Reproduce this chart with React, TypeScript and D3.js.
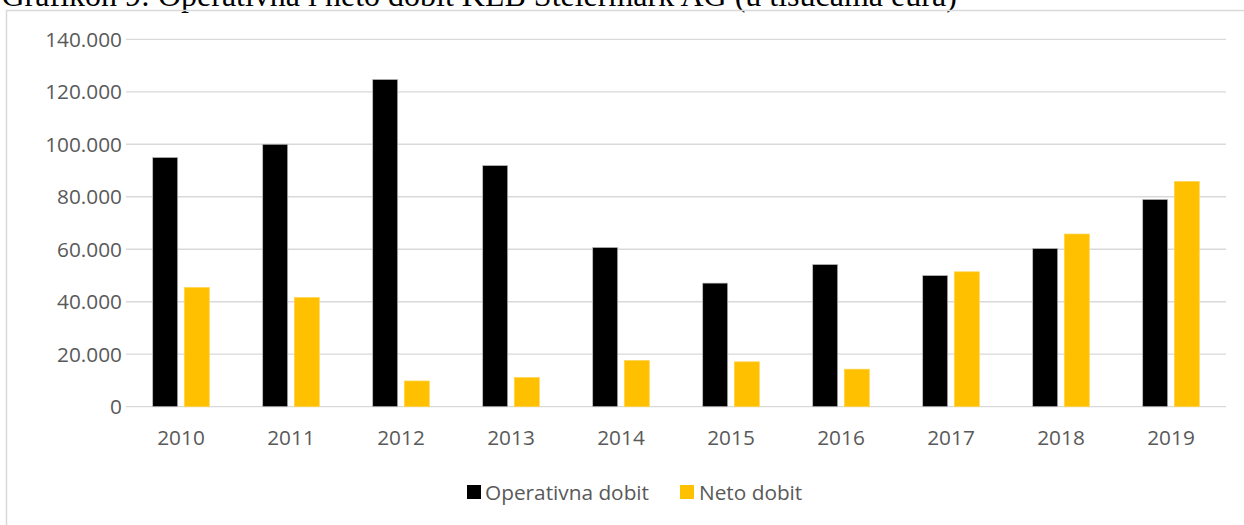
import React from "react";
import * as d3 from "d3";

const years = ["2010", "2011", "2012", "2013", "2014", "2015", "2016", "2017", "2018", "2019"];
const operativnaDobit = [95000, 100000, 124700, 91900, 60700, 47100, 54200, 50000, 60300, 79000];
const netoDobit = [45400, 41600, 9800, 11100, 17600, 17100, 14300, 51400, 65800, 85800];
const yTicks = [0, 20000, 40000, 60000, 80000, 100000, 120000, 140000];
const seriesNames = ["Operativna dobit", "Neto dobit"];
const seriesColors = ["#000000", "#FFC000"];
const title = "Grafikon 9: Operativna i neto dobit KLB Steiermark AG (u tisućama eura)";

const W = 1244;
const H = 525;
const left = 126;
const right = 1226;
const top = 39.3;
const bottom = 406.7;
const font = "'Open Sans', 'Noto Sans', sans-serif";
const fs = 20.8;

export default function App() {
  const x = d3.scaleBand<string>().domain(years).range([left, right]).paddingInner(0).paddingOuter(0);
  const y = d3.scaleLinear().domain([0, 140000]).range([bottom, top]);
  const barW = 25;
  const gap = 6.6;
  const fmt = (v: number) => (v === 0 ? "0" : d3.format(",")(v).replace(/,/g, "."));
  const series = [operativnaDobit, netoDobit];

  return (
    <svg
      width={W}
      height={H}
      style={{ position: "absolute", left: 0, top: 0, background: "#fff" }}
    >
      <rect x={0} y={0} width={W} height={H} fill="#fff" />
      <text x={1.5} y={6} fontFamily="'Liberation Serif', 'Times New Roman', serif" fontSize={32} fill="#000">
        {title}
      </text>
      <rect x={6.5} y={10.5} width={W + 20} height={H + 20} fill="none" stroke="#d9d9d9" strokeWidth={1.5} />
      {yTicks.map((t) => (
        <g key={t}>
          <line x1={left} x2={right} y1={y(t)} y2={y(t)} stroke="#d9d9d9" strokeWidth={1.3} />
          <text
            x={122}
            y={y(t)}
            dy="0.36em"
            textAnchor="end"
            fontFamily={font}
            fontSize={fs}
            fill="#595959"
          >
            {fmt(t)}
          </text>
        </g>
      ))}
      {years.map((yr, i) => {
        const c = (x(yr) as number) + x.bandwidth() / 2;
        return (
          <g key={yr}>
            {series.map((s, k) => {
              const bx = k === 0 ? c - gap / 2 - barW : c + gap / 2;
              return (
                <rect
                  key={k}
                  x={bx}
                  y={y(s[i])}
                  width={barW}
                  height={y(0) - y(s[i])}
                  fill={seriesColors[k]}
                  stroke={k === 0 ? "#bfbfbf" : "#ffd34d"}
                  strokeWidth={0.7}
                />
              );
            })}
            <text
              x={c}
              y={444.5}
              textAnchor="middle"
              fontFamily={font}
              fontSize={fs}
              fill="#595959"
            >
              {yr}
            </text>
          </g>
        );
      })}
      <g>
        <rect x={467} y={485} width={14} height={14} fill={seriesColors[0]} />
        <text x={485} y={499.5} fontFamily={font} fontSize={fs} fill="#595959">
          {seriesNames[0]}
        </text>
        <rect x={680} y={485} width={14} height={14} fill={seriesColors[1]} />
        <text x={699} y={499.5} fontFamily={font} fontSize={fs} fill="#595959">
          {seriesNames[1]}
        </text>
      </g>
    </svg>
  );
}
